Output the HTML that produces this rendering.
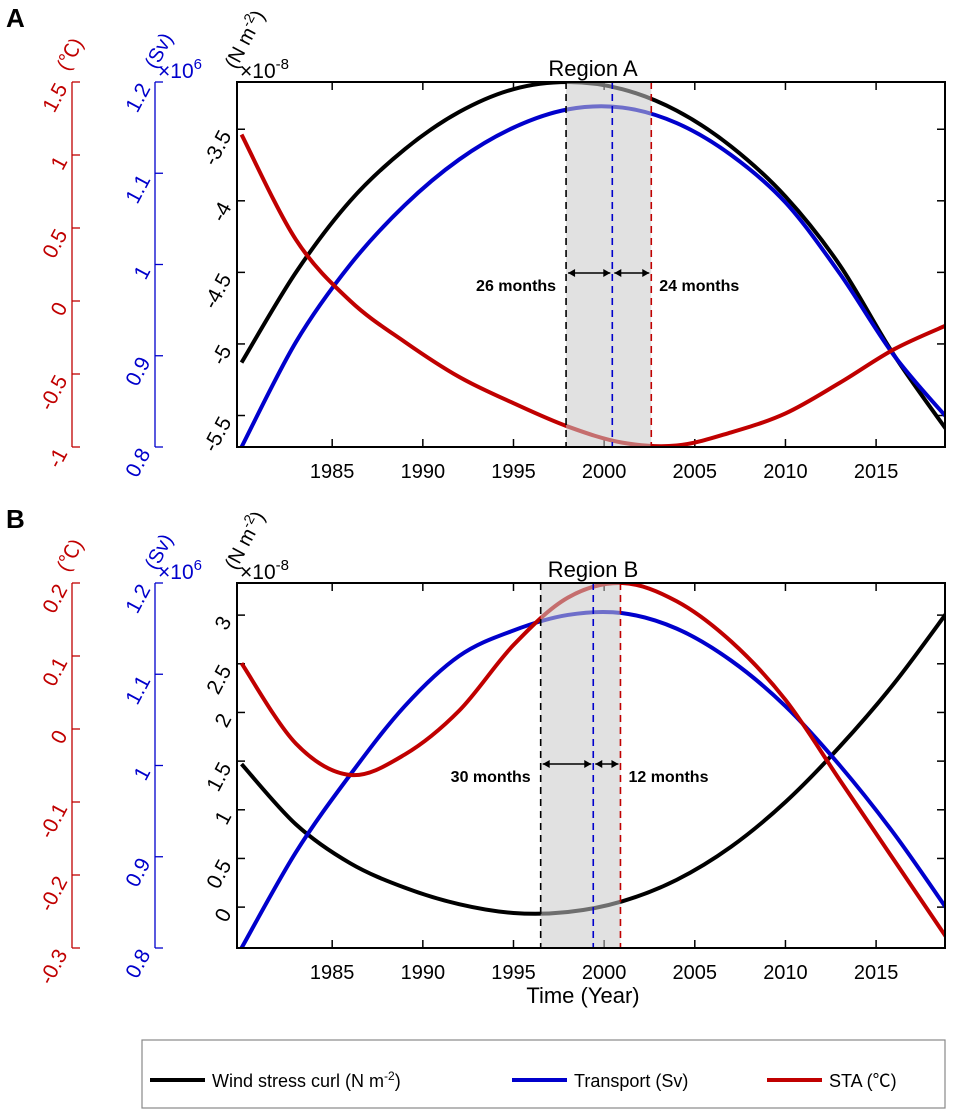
<!DOCTYPE html>
<html><head><meta charset="utf-8"><style>
html,body{margin:0;padding:0;background:#fff;}
svg{display:block;font-family:"Liberation Sans","Noto Sans CJK SC",sans-serif;}
</style></head><body>
<svg id="fig" width="955" height="1119" viewBox="0 0 955 1119"></svg>
<script>
const years=[1980,1983,1986,1989,1992,1995,1998,2001,2004,2007,2010,2013,2016,2019];
const xTicks=[1985,1990,1995,2000,2005,2010,2015];
const windA=[-5.13,-4.5,-4.0,-3.64,-3.38,-3.22,-3.17,-3.22,-3.37,-3.62,-3.97,-4.45,-5.08,-5.62];
const transA=[0.80,0.915,1.0,1.065,1.115,1.15,1.17,1.172,1.155,1.12,1.068,0.99,0.9,0.83];
const staA=[1.14,0.42,0.0,-0.28,-0.52,-0.7,-0.86,-0.97,-0.99,-0.9,-0.77,-0.56,-0.33,-0.16];
const windB=[1.47,0.85,0.45,0.2,0.03,-0.06,-0.05,0.06,0.28,0.62,1.08,1.65,2.3,3.05];
const transB=[0.8,0.905,0.99,1.065,1.12,1.148,1.165,1.167,1.15,1.115,1.065,1.0,0.925,0.84];
const staB=[0.09,-0.02,-0.063,-0.035,0.025,0.115,0.18,0.2,0.175,0.12,0.04,-0.07,-0.18,-0.29];
const windTicksA=[-3.5,-4,-4.5,-5,-5.5];
const windTicksB=[0,0.5,1,1.5,2,2.5,3];
const transTicks=[0.8,0.9,1,1.1,1.2];
const staTicksA=[-1,-0.5,0,0.5,1,1.5];
const staTicksB=[-0.3,-0.2,-0.1,0,0.1,0.2];
const lagA=[1997.9,2000.45,2002.6];
const lagB=[1996.5,1999.4,2000.9];
const lagLabelsA=["26 months","24 months"];
const lagLabelsB=["30 months","12 months"];

const NS="http://www.w3.org/2000/svg";
const svg=document.getElementById('fig');
function el(tag,attrs,parent){const e=document.createElementNS(NS,tag);for(const k in attrs)e.setAttribute(k,attrs[k]);(parent||svg).appendChild(e);return e;}
const X0=237,X1=945,YR0=1979.75,YR1=2018.8;
function xs(y){return X0+(y-YR0)/(YR1-YR0)*(X1-X0);}
function smooth(pts){let d=`M${pts[0][0]},${pts[0][1]}`;for(let i=0;i<pts.length-1;i++){const p0=pts[i-1]||pts[i],p1=pts[i],p2=pts[i+1],p3=pts[i+2]||p2;d+=` C${p1[0]+(p2[0]-p0[0])/6},${p1[1]+(p2[1]-p0[1])/6} ${p2[0]-(p3[0]-p1[0])/6},${p2[1]-(p3[1]-p1[1])/6} ${p2[0]},${p2[1]}`;}return d;}
function fmt(v){return String(v);}

function panel(cfg){
  const T=cfg.top,B=cfg.bot;
  const g=el('g',{});
  
  
  const wy=v=>T+(cfg.wMax-v)/(cfg.wMax-cfg.wMin)*(B-T);
  const ty=v=>T+(1.2-v)/0.4*(B-T);
  const sy=v=>T+(cfg.sMax-v)/(cfg.sMax-cfg.sMin)*(B-T);
  const L=el('text',{x:6,y:T-55,'font-size':26,'font-weight':'bold'},g);L.textContent=cfg.letter;
  
  const ra=el('g',{stroke:'#c00000','stroke-width':1.3},g);
  
  el('line',{x1:72,y1:T,x2:72,y2:B},ra);
  cfg.sTicks.forEach(v=>{const y=sy(v);el('line',{x1:72,y1:y,x2:80,y2:y},ra);
    const t=el('text',{fill:'#c00000',stroke:'none','font-size':21,'text-anchor':'end',transform:`translate(68,${y+6}) rotate(-62)`},g);t.textContent=fmt(v);
    });
  const ru=el('text',{fill:'#c00000','font-size':20,transform:`translate(68,${T-10}) rotate(-62)`},g);ru.textContent='(℃)';
  
  const ba=el('g',{stroke:'#0000cc','stroke-width':1.3},g);
  
  el('line',{x1:155,y1:T,x2:155,y2:B},ba);
  transTicks.forEach(v=>{const y=ty(v);el('line',{x1:155,y1:y,x2:163,y2:y},ba);
    const t=el('text',{fill:'#0000cc',stroke:'none','font-size':21,'text-anchor':'end',transform:`translate(151,${y+6}) rotate(-62)`},g);t.textContent=fmt(v);
    });
  const bu=el('text',{fill:'#0000cc','font-size':20,transform:`translate(156,${T-12}) rotate(-62)`},g);bu.textContent='(Sv)';
  
  const bx=el('text',{fill:'#0000cc','font-size':21,x:158,y:T-4},g);bx.innerHTML='×10<tspan dy="-9" font-size="15">6</tspan>';
  
  cfg.wTicks.forEach(v=>{const y=wy(v);el('line',{x1:X0,y1:y,x2:X0+8,y2:y,stroke:'#000','stroke-width':1.5},g);el('line',{x1:X1,y1:y,x2:X1-8,y2:y,stroke:'#000','stroke-width':1.5},g);
    const t=el('text',{'font-size':21,'text-anchor':'end',transform:`translate(232,${y+6}) rotate(-62)`},g);t.textContent=fmt(v);
    });
  const wu=el('text',{'font-size':20,transform:`translate(236,${T-12}) rotate(-62)`},g);wu.innerHTML='(N m<tspan dy="-8" font-size="14">-2</tspan><tspan dy="8">)</tspan>';
  
  const wx=el('text',{'font-size':21,x:240,y:T-4},g);wx.innerHTML='×10<tspan dy="-9" font-size="15">-8</tspan>';
  
  xTicks.forEach(yr=>{const x=xs(yr);el('line',{x1:x,y1:B,x2:x,y2:B-8,stroke:'#000','stroke-width':1.5},g);el('line',{x1:x,y1:T,x2:x,y2:T+8,stroke:'#000','stroke-width':1.5},g);
    const t=el('text',{x:x,y:B+31,'font-size':20,'text-anchor':'middle'},g);t.textContent=yr;
    });
  const cp=el('clipPath',{id:'clip'+cfg.letter},g);el('rect',{x:X0,y:T,width:X1-X0,height:B-T},cp);
  const curve=(arr,f,col,name)=>{const p=el('path',{d:smooth(arr.map((v,i)=>[xs(years[i]),f(v)])),fill:'none',stroke:col,'stroke-width':4,'clip-path':`url(#clip${cfg.letter})`},g);
    };
  curve(cfg.wind,wy,'#000','wind-stress-curve');
  curve(cfg.trans,ty,'#0000cc','transport-curve');
  curve(cfg.sta,sy,'#c00000','sta-curve');
  const lag=cfg.lag;
  const sh=el('rect',{x:xs(lag[0]),y:T,width:xs(lag[2])-xs(lag[0]),height:B-T,fill:'#c8c8c8','fill-opacity':0.55},g);
  
  ['#000','#0000cc','#c00000'].forEach((c,i)=>{const l=el('line',{x1:xs(lag[i]),y1:T,x2:xs(lag[i]),y2:B,stroke:c,'stroke-width':1.6,'stroke-dasharray':'7,5'},g);
    });
  const ay=cfg.arrowY;
  const arrow=(a,b)=>{const x1=xs(a)+2,x2=xs(b)-2;el('line',{x1,y1:ay,x2,y2:ay,stroke:'#000','stroke-width':1.5},g);
    el('path',{d:`M${x1},${ay} l7,-4 v8 z M${x2},${ay} l-7,-4 v8 z`,fill:'#000'},g);};
  arrow(lag[0],lag[1]);arrow(lag[1],lag[2]);
  const l1=el('text',{x:xs(lag[0])-10,y:ay+18,'font-size':16,'font-weight':'bold','text-anchor':'end'},g);l1.textContent=cfg.labels[0];
  
  const l2=el('text',{x:xs(lag[2])+8,y:ay+18,'font-size':16,'font-weight':'bold'},g);l2.textContent=cfg.labels[1];
  
  const bxr=el('rect',{x:X0,y:T,width:X1-X0,height:B-T,fill:'none',stroke:'#000','stroke-width':2},g);
  
  const ttl=el('text',{x:593,y:T-6,'font-size':22,'text-anchor':'middle'},g);ttl.textContent=cfg.title;
  
}
panel({name:'panel-a',letter:'A',title:'Region A',top:82,bot:447,wMax:-3.17,wMin:-5.72,sMax:1.5,sMin:-1,wind:windA,trans:transA,sta:staA,wTicks:windTicksA,sTicks:staTicksA,lag:lagA,labels:lagLabelsA,arrowY:273});
panel({name:'panel-b',letter:'B',title:'Region B',top:583,bot:948,wMax:3.33,wMin:-0.42,sMax:0.2,sMin:-0.3,wind:windB,trans:transB,sta:staB,wTicks:windTicksB,sTicks:staTicksB,lag:lagB,labels:lagLabelsB,arrowY:764});
const xt=el('text',{x:583,y:1003,'font-size':22,'text-anchor':'middle'});xt.textContent='Time (Year)';

const lg=el('g',{});

el('rect',{x:142,y:1040,width:803,height:68,fill:'#fff',stroke:'#888','stroke-width':1.2},lg);
const ents=[['#000',150,'Wind stress curl (N m<tspan dy="-7" font-size="12">-2</tspan><tspan dy="7">)</tspan>'],['#0000cc',512,'Transport (Sv)'],['#c00000',767,'STA (℃)']];
ents.forEach(e=>{const ge=el('g',{},lg);
  
  el('line',{x1:e[1],y1:1080,x2:e[1]+55,y2:1080,stroke:e[0],'stroke-width':4},ge);
  const t=el('text',{x:e[1]+62,y:1087,'font-size':18},ge);t.innerHTML=e[2];});
</script>
</body></html>
